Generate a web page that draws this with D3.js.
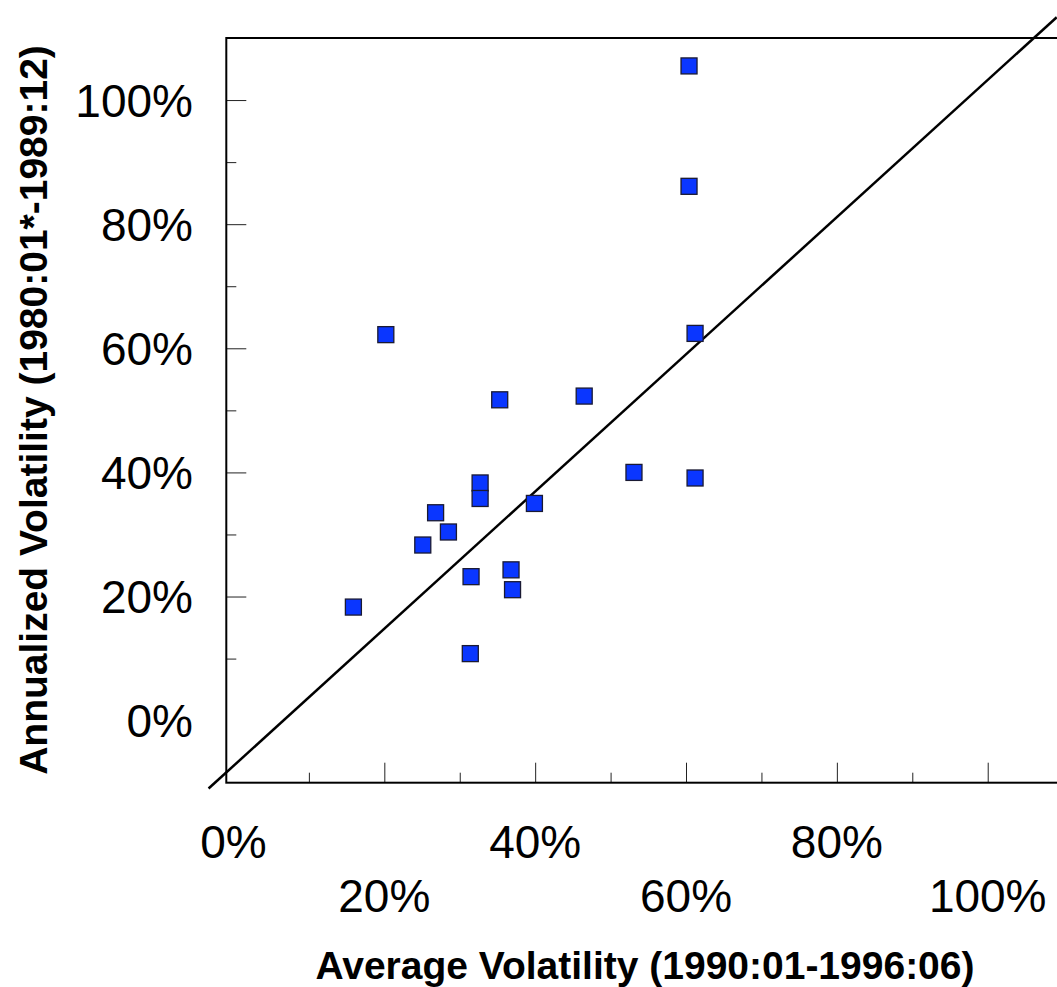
<!DOCTYPE html>
<html>
<head>
<meta charset="utf-8">
<script src="https://cdn.jsdelivr.net/npm/d3@7"></script>
<style>
  html, body { margin: 0; padding: 0; background: #fff; }
  svg { display: block; font-family: "Liberation Sans", Arial, sans-serif; }
</style>
</head>
<body>
<svg id="chart" width="1057" height="987"></svg>
<script>
// Average volatility 1990:01-1996:06 (x) vs annualized volatility 1980:01-1989:12 (y), in percent
const avgVolatility = [60.4, 60.4, 20.2, 61.2, 35.3, 46.5, 53.1, 61.2, 32.7, 32.7, 39.9, 26.8, 28.5, 25.1, 36.8, 31.5, 37.0, 15.9, 31.4];
const annVolatility = [105.5, 86.1, 62.2, 62.4, 51.7, 52.3, 40.0, 39.1, 38.3, 35.8, 35.0, 33.5, 30.4, 28.3, 24.3, 23.2, 21.1, 18.3, 10.8];

// Reference line endpoints (x, y) in percent
const refLineX = [-3.3, 109.15];
const refLineY = [-10.94, 113.35];

// Axis ticks and labels
const xMajorTicks = [20, 40, 60, 80, 100];
const xMinorTicks = [10, 30, 50, 70, 90];
const xTickLabels = [0, 20, 40, 60, 80, 100];
const yMajorTicks = [20, 40, 60, 80, 100];
const yMinorTicks = [10, 30, 50, 70, 90];
const yTickLabels = [0, 20, 40, 60, 80, 100];

const xTitle = "Average Volatility (1990:01-1996:06)";
const yTitle = "Annualized Volatility (1980:01*-1989:12)";

const svg = d3.select("#chart");
const plotLeft = 226.3, plotTop = 38, plotBottom = 782.7;
const pxPerX = 7.5425;

const x = d3.scaleLinear().domain([-0.95, 110]).range([plotLeft, plotLeft + 110.95 * pxPerX]);
const y = d3.scaleLinear().domain([-10, 110]).range([plotBottom, plotTop]);

const plotRight = x(110);

// Tick marks pointing into the plot
const tickColor = "#222";
function styleAxis(g) {
  g.select(".domain").remove();
  g.selectAll("line").attr("stroke", tickColor).attr("stroke-width", 1);
  g.selectAll("text").remove();
}
svg.append("g").attr("transform", `translate(0,${plotBottom})`)
  .call(d3.axisBottom(x).tickValues(xMajorTicks).tickSize(-20)).call(styleAxis);
svg.append("g").attr("transform", `translate(0,${plotBottom})`)
  .call(d3.axisBottom(x).tickValues(xMinorTicks).tickSize(-10)).call(styleAxis);
svg.append("g").attr("transform", `translate(${plotLeft},0)`)
  .call(d3.axisLeft(y).tickValues(yMajorTicks).tickSize(-20)).call(styleAxis);
svg.append("g").attr("transform", `translate(${plotLeft},0)`)
  .call(d3.axisLeft(y).tickValues(yMinorTicks).tickSize(-10)).call(styleAxis);

// Plot frame
svg.append("rect")
  .attr("x", plotLeft).attr("y", plotTop)
  .attr("width", plotRight - plotLeft).attr("height", plotBottom - plotTop)
  .attr("fill", "none").attr("stroke", "#000").attr("stroke-width", 2);

// Tick labels: x labels alternate between two rows
const pct = d => d + "%";
svg.append("g").selectAll("text").data(xTickLabels).join("text")
  .attr("x", d => x(d))
  .attr("y", (d, i) => i % 2 === 0 ? 858 : 912)
  .attr("text-anchor", "middle")
  .attr("font-size", 46)
  .attr("fill", "#000")
  .text(pct);

svg.append("g").selectAll("text").data(yTickLabels).join("text")
  .attr("x", 193)
  .attr("y", d => y(d) + 16.5)
  .attr("text-anchor", "end")
  .attr("font-size", 46)
  .attr("fill", "#000")
  .text(pct);

// Reference line
svg.append("line")
  .attr("x1", x(refLineX[0])).attr("y1", y(refLineY[0]))
  .attr("x2", x(refLineX[1])).attr("y2", y(refLineY[1]))
  .attr("stroke", "#000").attr("stroke-width", 2.5);

// Points
const size = 16;
svg.append("g").selectAll("rect")
  .data(avgVolatility.map((v, i) => [v, annVolatility[i]]))
  .join("rect")
  .attr("x", d => x(d[0]) - size / 2)
  .attr("y", d => y(d[1]) - size / 2)
  .attr("width", size).attr("height", size)
  .attr("fill", "#0a36ff")
  .attr("stroke", "#1a1a33")
  .attr("stroke-width", 1.3);

// Axis titles
svg.append("text")
  .attr("x", 645).attr("y", 979)
  .attr("text-anchor", "middle")
  .attr("font-size", 39).attr("font-weight", "bold")
  .attr("fill", "#000")
  .text(xTitle);

svg.append("text")
  .attr("transform", `translate(47,410) rotate(-90)`)
  .attr("text-anchor", "middle")
  .attr("font-size", 39).attr("font-weight", "bold")
  .attr("fill", "#000")
  .text(yTitle);
</script>
</body>
</html>
